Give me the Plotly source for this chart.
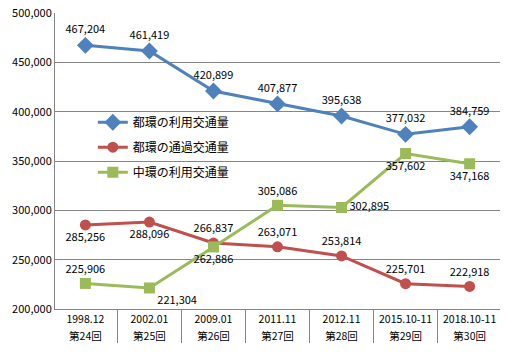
import plotly.graph_objects as go

dates = ["1998.12", "2002.01", "2009.01", "2011.11", "2012.11", "2015.10-11", "2018.10-11"]
rounds = ["第24回", "第25回", "第26回", "第27回", "第28回", "第29回", "第30回"]

names = ["都環の利用交通量", "都環の通過交通量", "中環の利用交通量"]
toshi_use = [467204, 461419, 420899, 407877, 395638, 377032, 384759]
toshi_pass = [285256, 288096, 266837, 263071, 253814, 225701, 222918]
chuo_use = [225906, 221304, 262886, 305086, 302895, 357602, 347168]

y_ticks = [200000, 250000, 300000, 350000, 400000, 450000, 500000]

font = "Noto Sans CJK JP, Noto Sans, sans-serif"
x = [rounds, dates]

fig = go.Figure()
fig.add_trace(go.Scatter(
    x=x, y=toshi_use, name=names[0], legendgroup="a", mode="lines+markers+text",
    line=dict(color="#4F81BD", width=3),
    marker=dict(symbol="diamond", size=13, color="#4F81BD"),
    text=[f"{v:,}" for v in toshi_use], textposition="top center",
    textfont=dict(size=11, color="#000000"),
))
fig.add_trace(go.Scatter(
    x=x, y=toshi_pass, name=names[1], legendgroup="b", mode="lines+markers+text",
    line=dict(color="#C0504D", width=3),
    marker=dict(symbol="circle", size=11, color="#C0504D"),
    text=[f"{v:,}" for v in toshi_pass],
    textposition=["bottom center", "bottom center", "top center", "top center",
                  "top center", "top center", "top center"],
    textfont=dict(size=11, color="#000000"),
))
fig.add_trace(go.Scatter(
    x=x, y=chuo_use, name=names[2], legendgroup="c", mode="lines+markers+text",
    line=dict(color="#9BBB59", width=3),
    marker=dict(symbol="square", size=11, color="#9BBB59"),
    text=[f"{v:,}" for v in chuo_use],
    textposition=["top center", "bottom right", "bottom center", "top center",
                  "middle right", "bottom center", "bottom center"],
    textfont=dict(size=11, color="#000000"),
))

fig.update_layout(
    width=505, height=360,
    margin=dict(l=55, r=5, t=13, b=51),
    paper_bgcolor="white", plot_bgcolor="white",
    font=dict(family=font, size=11, color="#000000"),
    showlegend=True,
    legend=dict(x=0.085, y=0.68, xanchor="left", yanchor="top",
                bgcolor="rgba(0,0,0,0)", font=dict(size=12),
                itemwidth=30, tracegroupgap=6, traceorder="grouped"),
)
fig.update_yaxes(
    range=[200000, 500000], tickvals=y_ticks, tickformat=",",
    showgrid=True, gridcolor="#868686", gridwidth=1,
    showline=True, linecolor="#868686", linewidth=1,
    zeroline=False, ticks="", tickfont=dict(size=11), automargin=False,
)
fig.update_xaxes(
    type="multicategory",
    showgrid=False, showline=True, linecolor="#868686", linewidth=1,
    showdividers=True, dividercolor="#868686", dividerwidth=1,
    ticks="outside", ticklen=4, tickcolor="#868686",
    tickfont=dict(size=10.5), automargin=False,
)

fig.write_html("out.html", config={"displayModeBar": False},
               post_script="document.body.style.margin='0';")
